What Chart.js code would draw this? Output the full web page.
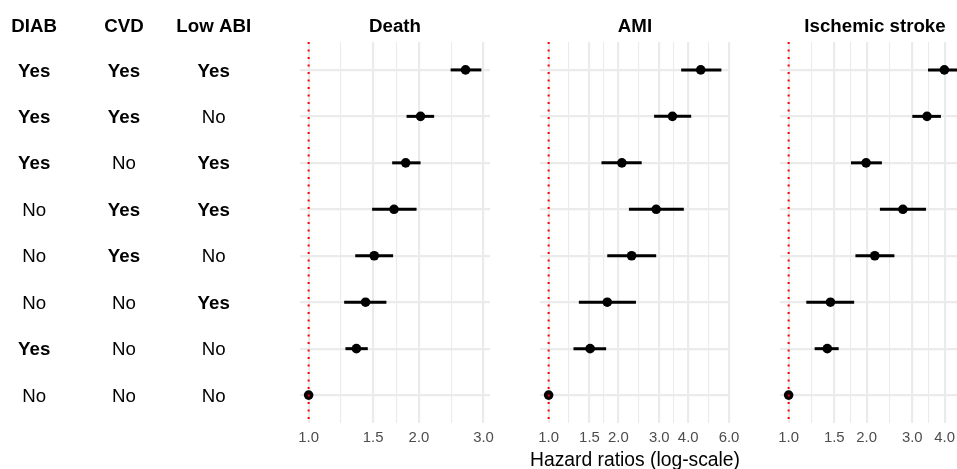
<!DOCTYPE html>
<html>
<head>
<meta charset="utf-8">
<script src="https://cdn.jsdelivr.net/npm/chart.js@4.4.1/dist/chart.umd.min.js"></script>
<style>
  html, body { margin: 0; padding: 0; width: 957px; height: 469px; overflow: hidden; background: #fff; }
  canvas { position: absolute; top: 0; }
</style>
</head>
<body>
<canvas id="tbl" width="290" height="480" style="left:0px"></canvas>
<canvas id="c0" width="240" height="480" style="left:275px"></canvas>
<canvas id="c1" width="240" height="480" style="left:515px"></canvas>
<canvas id="c2" width="240" height="480" style="left:755px"></canvas>
<script>
// ---------- data (rows top to bottom) ----------
const tableHeaders = ['DIAB', 'CVD', 'Low ABI'];
const diab   = ['Yes', 'Yes', 'Yes', 'No',  'No',  'No',  'Yes', 'No'];
const cvd    = ['Yes', 'Yes', 'No',  'Yes', 'Yes', 'No',  'No',  'No'];
const lowAbi = ['Yes', 'No',  'Yes', 'Yes', 'No',  'Yes', 'No',  'No'];

const panelTitles = ['Death', 'AMI', 'Ischemic stroke'];

const deathHR = [2.68, 2.02, 1.84, 1.71, 1.51, 1.43, 1.35, 1.0];
const deathLo = [2.44, 1.85, 1.69, 1.49, 1.34, 1.25, 1.26, null];
const deathHi = [2.96, 2.20, 2.02, 1.97, 1.70, 1.63, 1.45, null];

const amiHR = [4.53, 3.42, 2.07, 2.91, 2.28, 1.79, 1.51, 1.0];
const amiLo = [3.73, 2.85, 1.69, 2.22, 1.79, 1.35, 1.28, null];
const amiHi = [5.56, 4.12, 2.52, 3.83, 2.91, 2.38, 1.77, null];

const strokeHR = [3.99, 3.42, 1.99, 2.76, 2.15, 1.45, 1.41, 1.0];
const strokeLo = [3.45, 3.00, 1.74, 2.25, 1.81, 1.17, 1.26, null];
const strokeHi = [4.64, 3.87, 2.29, 3.39, 2.56, 1.79, 1.56, null];

const deathTicks  = [1.0, 1.5, 2.0, 3.0];
const amiTicks    = [1.0, 1.5, 2.0, 3.0, 4.0, 6.0];
const strokeTicks = [1.0, 1.5, 2.0, 3.0, 4.0, 6.0];

const axisTitle = 'Hazard ratios (log-scale)';
const refValue = 1.0;
// ----------------------------------------------

Chart.defaults.font.family = "'Liberation Sans', Arial, sans-serif";
Chart.defaults.animation = false;

const nRows = diab.length;
const rowIdx = diab.map((_, i) => i + 1);
const yMin = 0.4, yMax = nRows + 0.6;
const GRID = '#ebebeb';

function yScale() {
  return {
    type: 'linear', min: yMin, max: yMax, reverse: true,
    afterBuildTicks: (ax) => { ax.ticks = rowIdx.map(v => ({ value: v })); },
    ticks: { display: false },
    grid: { color: GRID, lineWidth: 2.2, drawTicks: false },
    border: { display: false }
  };
}

// ---------- table chart ----------
const tableCols = [diab, cvd, lowAbi];
const tablePlugin = {
  id: 'tableText',
  afterDatasetsDraw(chart) {
    const { ctx, scales: { x, y } } = chart;
    ctx.save();
    ctx.textAlign = 'center';
    ctx.textBaseline = 'middle';
    ctx.fillStyle = '#000';
    tableHeaders.forEach((h, c) => {
      ctx.font = "bold 18.7px 'Liberation Sans', Arial, sans-serif";
      ctx.fillText(h, x.getPixelForValue(c + 1), 27.3);
    });
    tableCols.forEach((col, c) => {
      col.forEach((v, r) => {
        ctx.font = (v === 'Yes' ? 'bold ' : '') + "18.7px 'Liberation Sans', Arial, sans-serif";
        ctx.fillText(v, x.getPixelForValue(c + 1), y.getPixelForValue(r + 1) + 1.5);
      });
    });
    ctx.restore();
  }
};
new Chart(document.getElementById('tbl'), {
  type: 'scatter',
  data: { datasets: [{ data: [], pointRadius: 0 }] },
  options: {
    responsive: false, devicePixelRatio: 1,
    layout: { padding: { top: 42, bottom: 57, left: 34.2, right: 76.3 } },
    plugins: { legend: { display: false }, tooltip: { enabled: false } },
    scales: {
      x: { type: 'linear', min: 1, max: 3, display: false },
      y: Object.assign(yScale(), { display: false })
    }
  },
  plugins: [tablePlugin]
});

// shared x-axis title, drawn centred under the middle panel
const axisTitlePlugin = {
  id: 'axisTitle',
  afterDraw(chart) {
    const { ctx, chartArea } = chart;
    ctx.save();
    ctx.font = "19.3px 'Liberation Sans', Arial, sans-serif";
    ctx.fillStyle = '#000';
    ctx.textAlign = 'center';
    ctx.textBaseline = 'middle';
    ctx.fillText(axisTitle, (chartArea.left + chartArea.right) / 2, chartArea.bottom + 37.5);
    ctx.restore();
  }
};

// ---------- forest panels ----------
function makePanel(id, title, hr, lo, hi, majors, showTitle) {
  const hiMax = Math.max(...hi.filter(v => v !== null));
  const L = Math.log(hiMax);
  const xmin = Math.exp(-0.05 * L), xmax = Math.exp(1.05 * L);
  const all = [];
  majors.forEach((m, i) => {
    all.push({ value: m, major: true });
    if (i < majors.length - 1) all.push({ value: Math.sqrt(m * majors[i + 1]), major: false });
  });
  const ticks = all.filter(t => t.value >= xmin && t.value <= xmax);
  const majorSet = new Set(ticks.filter(t => t.major).map(t => t.value));

  const datasets = [];
  datasets.push({
    data: [{ x: refValue, y: yMin }, { x: refValue, y: yMax }],
    showLine: true, borderColor: '#ff0000', borderWidth: 2, borderDash: [2, 5.5],
    pointRadius: 0, order: 0
  });
  datasets.push({
    data: hr.map((v, i) => ({ x: v, y: i + 1 })),
    pointRadius: 4.8, pointBackgroundColor: '#000', pointBorderColor: '#000',
    pointBorderWidth: 0, order: 1
  });
  hr.forEach((v, i) => {
    if (lo[i] === null) return;
    datasets.push({
      data: [{ x: lo[i], y: i + 1 }, { x: hi[i], y: i + 1 }],
      showLine: true, borderColor: '#000', borderWidth: 3, pointRadius: 0,
      borderCapStyle: 'butt', order: 2
    });
  });

  new Chart(document.getElementById(id), {
    type: 'scatter',
    data: { datasets },
    options: {
      responsive: false, devicePixelRatio: 1,
      layout: { padding: { top: 0, bottom: 27.12, left: 25, right: 25 } },
      plugins: {
        legend: { display: false }, tooltip: { enabled: false },
        title: {
          display: true, text: title, color: '#000',
          font: { size: 18.7, weight: 'bold', lineHeight: 1.2 },
          padding: { top: 16.1, bottom: 3.5 }
        }
      },
      scales: {
        x: {
          type: 'logarithmic', min: xmin, max: xmax,
          afterBuildTicks: (ax) => { ax.ticks = ticks.map(t => ({ value: t.value })); },
          ticks: {
            autoSkip: false, maxRotation: 0, padding: 6, color: '#4d4d4d',
            font: { size: 14.9, lineHeight: 1.2 },
            callback: (v) => majorSet.has(v) ? Number(v).toFixed(1) : ''
          },
          grid: {
            color: GRID, drawTicks: false,
            lineWidth: (ctx) => (ctx.tick && majorSet.has(ctx.tick.value)) ? 2.2 : 1.1
          },
          border: { display: false },
          title: { display: false }
        },
        y: yScale()
      }
    },
    plugins: showTitle ? [axisTitlePlugin] : []
  });
}

makePanel('c0', panelTitles[0], deathHR, deathLo, deathHi, deathTicks, false);
makePanel('c1', panelTitles[1], amiHR, amiLo, amiHi, amiTicks, true);
makePanel('c2', panelTitles[2], strokeHR, strokeLo, strokeHi, strokeTicks, false);
</script>
</body>
</html>
